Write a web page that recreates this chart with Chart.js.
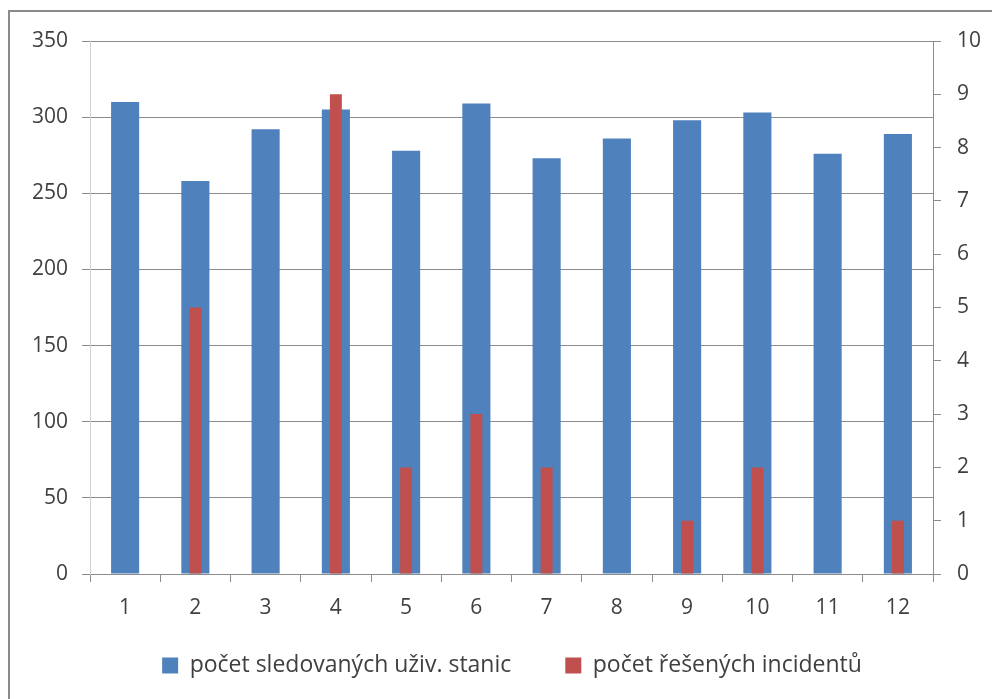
<!DOCTYPE html>
<html>
<head>
<meta charset="utf-8">
<script src="https://cdn.jsdelivr.net/npm/chart.js@4/dist/chart.umd.min.js"></script>
<style>
  html, body { margin: 0; padding: 0; background: #fff; overflow: hidden; }
  #wrap { position: relative; width: 992px; height: 699px; }
  #frame { position: absolute; left: 8px; top: 10px; width: 1000px; height: 720px; border: 2px solid #8a8a8a; box-sizing: border-box; }
  canvas { position: absolute; left: 0; top: 0; }
</style>
</head>
<body>
<div id="wrap">
  <div id="frame"></div>
  <canvas id="c" width="992" height="699"></canvas>
</div>
<script>
// Monthly counts
const months = ['1', '2', '3', '4', '5', '6', '7', '8', '9', '10', '11', '12'];
const stations = [310, 258, 292, 305, 278, 309, 273, 286, 298, 303, 276, 289];
const incidents = [0, 5, 0, 9, 2, 3, 2, 0, 1, 2, 0, 1];
const leftTicks = [0, 50, 100, 150, 200, 250, 300, 350];
const rightTicks = [0, 1, 2, 3, 4, 5, 6, 7, 8, 9, 10];

const TICK_FONT = { family: "'Open Sans', sans-serif", size: 21 };
const LEGEND_FONT = { family: "'Open Sans', sans-serif", size: 23 };
const TXT = '#404040';
const GRID = '#8c8c8c';

// The legend keeps wide gaps between its items, so nudge its box into place
// after layout instead of letting the item padding push it down.
const legendNudge = {
  id: 'legendNudge',
  afterLayout(chart) {
    const l = chart.legend;
    if (!l) return;
    l.top -= 20; l.bottom -= 20;
    l.left += 11; l.right += 11;
  }
};

new Chart(document.getElementById('c'), {
  type: 'bar',
  data: {
    labels: months,
    datasets: [
      {
        label: 'počet sledovaných uživ. stanic',
        data: stations,
        backgroundColor: '#4f81bd',
        yAxisID: 'y',
        grouped: false,
        categoryPercentage: 1,
        barPercentage: 0.4,
        order: 1
      },
      {
        label: 'počet řešených incidentů',
        data: incidents,
        backgroundColor: '#c0504d',
        yAxisID: 'y1',
        grouped: false,
        categoryPercentage: 1,
        barPercentage: 0.17,
        order: 0
      }
    ]
  },
  plugins: [legendNudge],
  options: {
    responsive: false,
    animation: false,
    layout: { padding: { top: 41, left: 10, right: 0, bottom: 0 } },
    plugins: {
      tooltip: { enabled: false },
      legend: {
        position: 'bottom',
        maxHeight: 79,
        labels: {
          font: LEGEND_FONT,
          color: TXT,
          boxWidth: 16,
          boxHeight: 16,
          padding: 54,
          sort: (a, b) => a.datasetIndex - b.datasetIndex
        }
      }
    },
    scales: {
      x: {
        afterFit: (s) => { s.height = 46; },
        grid: { display: true, drawOnChartArea: false, offset: true, color: GRID, tickLength: 8 },
        border: { color: GRID },
        ticks: { font: TICK_FONT, color: TXT, padding: 13 }
      },
      y: {
        position: 'left',
        min: 0,
        max: 350,
        afterBuildTicks: (s) => { s.ticks = leftTicks.map(v => ({ value: v })); },
        afterFit: (s) => { s.width = 80; },
        grid: { color: GRID, tickLength: 8 },
        border: { color: '#d0d0d0' },
        ticks: { font: TICK_FONT, color: TXT, padding: 14 }
      },
      y1: {
        position: 'right',
        min: 0,
        max: 10,
        afterBuildTicks: (s) => { s.ticks = rightTicks.map(v => ({ value: v })); },
        afterFit: (s) => { s.width = 59; },
        grid: { drawOnChartArea: false, color: GRID, tickLength: 8 },
        border: { color: GRID },
        ticks: { font: TICK_FONT, color: TXT, padding: 16 }
      }
    }
  }
});
</script>
</body>
</html>
